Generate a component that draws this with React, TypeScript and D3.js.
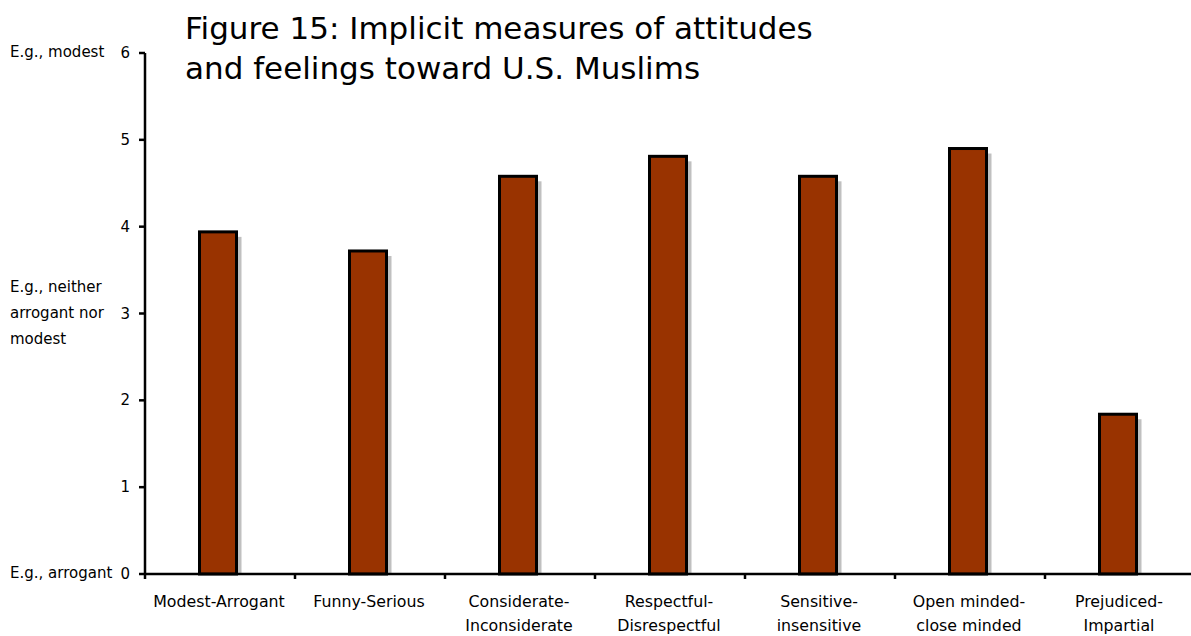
import { useEffect, useRef } from 'react';
import * as d3 from 'd3';

const categories = [
  ['Modest-Arrogant'],
  ['Funny-Serious'],
  ['Considerate-', 'Inconsiderate'],
  ['Respectful-', 'Disrespectful'],
  ['Sensitive-', 'insensitive'],
  ['Open minded-', 'close minded'],
  ['Prejudiced-', 'Impartial'],
];
const values = [3.94, 3.72, 4.58, 4.81, 4.58, 4.9, 1.84];
const yTicks = [0, 1, 2, 3, 4, 5, 6];
const anchorLabels = [
  { v: 6, lines: ['E.g., modest'] },
  { v: 3, lines: ['E.g., neither', 'arrogant nor', 'modest'] },
  { v: 0, lines: ['E.g., arrogant'] },
];
const titleLines = ['Figure 15: Implicit measures of attitudes', 'and feelings toward U.S. Muslims'];

const W = 1191;
const H = 636;
const font = '"DejaVu Sans", Verdana, sans-serif';

export default function App() {
  const svgRef = useRef<SVGSVGElement>(null);

  useEffect(() => {
    if (!svgRef.current) return;
    const svg = d3.select(svgRef.current);
    svg.selectAll('*').remove();

    const x0 = 145, x1 = 1195, yTop = 53, yBot = 574;

    const x = d3.scaleBand<number>()
      .domain(d3.range(categories.length))
      .range([x0, x1])
      .paddingInner(0)
      .paddingOuter(0);
    const y = d3.scaleLinear().domain([0, 6]).range([yBot, yTop]);

    const barW = 37;
    const g = svg.append('g');

    // shadows
    g.selectAll('.shadow')
      .data(values)
      .enter().append('rect')
      .attr('x', (d, i) => x(i)! + x.bandwidth() / 2 - barW / 2 - 2 + 5)
      .attr('y', d => y(d) + 5)
      .attr('width', barW)
      .attr('height', d => yBot - y(d) - 5)
      .attr('fill', '#c0c0c0');

    // bars
    g.selectAll('.bar')
      .data(values)
      .enter().append('rect')
      .attr('x', (d, i) => x(i)! + x.bandwidth() / 2 - barW / 2 - 2)
      .attr('y', d => y(d))
      .attr('width', barW)
      .attr('height', d => yBot - y(d))
      .attr('fill', '#993300')
      .attr('stroke', '#000')
      .attr('stroke-width', 3);

    // y axis
    svg.append('line')
      .attr('x1', x0).attr('x2', x0)
      .attr('y1', yTop).attr('y2', yBot)
      .attr('stroke', '#000').attr('stroke-width', 2.5);
    yTicks.forEach(t => {
      svg.append('line')
        .attr('x1', x0 - 6).attr('x2', x0)
        .attr('y1', y(t)).attr('y2', y(t))
        .attr('stroke', '#000').attr('stroke-width', 2.5);
      svg.append('text')
        .attr('x', 130).attr('y', y(t) + 5)
        .attr('text-anchor', 'end')
        .style('font-family', font).style('font-size', '15px')
        .text(t);
    });

    anchorLabels.forEach(a => {
      const n = a.lines.length;
      a.lines.forEach((l, i) => {
        svg.append('text')
          .attr('x', 10)
          .attr('y', y(a.v) + 4 + (i - (n - 1) / 2) * 26)
          .style('font-family', font).style('font-size', '15px')
          .text(l);
      });
    });

    // x axis
    svg.append('line')
      .attr('x1', x0).attr('x2', x1)
      .attr('y1', yBot).attr('y2', yBot)
      .attr('stroke', '#000').attr('stroke-width', 2.5);
    d3.range(categories.length + 1).forEach(i => {
      const tx = x0 + i * x.bandwidth();
      svg.append('line')
        .attr('x1', tx).attr('x2', tx)
        .attr('y1', yBot).attr('y2', yBot + 5)
        .attr('stroke', '#000').attr('stroke-width', 2.5);
    });
    categories.forEach((lines, i) => {
      lines.forEach((l, j) => {
        svg.append('text')
          .attr('x', x(i)! + x.bandwidth() / 2 - 1)
          .attr('y', 607 + j * 24)
          .attr('text-anchor', 'middle')
          .style('font-family', font).style('font-size', '15.8px')
          .text(l);
      });
    });

    // title
    titleLines.forEach((l, i) => {
      svg.append('text')
        .attr('x', 185).attr('y', 39 + i * 40)
        .style('font-family', font).style('font-size', '31px')
        .text(l);
    });
  }, []);

  return (
    <svg
      ref={svgRef}
      width={W}
      height={H}
      style={{ position: 'absolute', left: 0, top: 0, background: '#fff' }}
    />
  );
}
